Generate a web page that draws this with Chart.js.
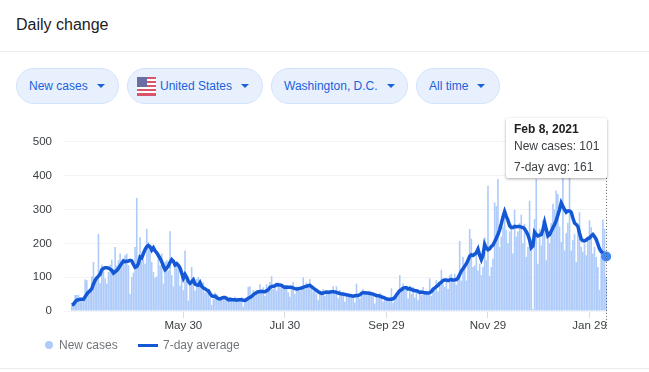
<!DOCTYPE html>
<html lang="en">
<head>
<meta charset="UTF-8">
<title>Daily change</title>
<style>
    html, body { margin: 0; padding: 0; background: #fff; width: 649px; height: 372px; overflow: hidden; }
    body { font-family: "Liberation Sans", Arial, sans-serif; position: relative; }
    #title { position: absolute; left: 16px; top: 15px; font-size: 16px; line-height: 20px; color: #202124; }
    .rule { position: absolute; left: 0; width: 649px; height: 1px; background: #ebebeb; }
    .chip {
        position: absolute; top: 68px; height: 34px; box-sizing: content-box;
        border: 1px solid #d2e3fc; border-radius: 18px; background: #e8f0fe; color: #1a62dc;
        font-size: 12px; display: flex; align-items: center; padding-left: 12px; white-space: nowrap;
    }
    .caret { width: 0; height: 0; margin-left: 9px; border-left: 4px solid transparent; border-right: 4px solid transparent; border-top: 4px solid #1a62dc; }
    #chartBox { position: absolute; left: 0; top: 124px; width: 649px; height: 216px; }
    #tip {
        position: absolute; left: 506px; top: 118px; width: 101px; height: 60px; background: #fff;
        border-radius: 2px; box-shadow: 0 1px 3px rgba(0,0,0,.35); font-size: 12px; color: #3c4043;
    }
    #tip div { position: absolute; left: 8px; white-space: nowrap; }
    #legend { position: absolute; left: 0; top: 337px; font-size: 12px; color: #70757a; }
    #legend span { position: absolute; white-space: nowrap; line-height: 16px; top: 0; }
    #legend i { position: absolute; display: block; }
</style>
</head>
<body>
<div id="title">Daily change</div>
<div class="rule" style="top:51px"></div>

<div class="chip" style="left:16px;width:89px"><span>New cases</span><span class="caret"></span></div>
<div class="chip" style="left:127px;width:125px;padding-left:9px">
    <svg width="19" height="19" viewBox="0 0 19 19" style="margin-right:4px;flex:none">
        <rect width="19" height="19" rx="1" fill="#fff"/>
        <rect y="0" width="19" height="2" fill="#d9566a"/><rect y="4" width="19" height="2" fill="#d9566a"/>
        <rect y="8" width="19" height="2" fill="#d9566a"/><rect y="12" width="19" height="2" fill="#d9566a"/>
        <rect y="16" width="19" height="3" fill="#d9566a"/>
        <rect width="10" height="10" fill="#6a6ea3"/>
    </svg>
    <span>United States</span><span class="caret"></span>
</div>
<div class="chip" style="left:271px;width:123px"><span>Washington, D.C.</span><span class="caret"></span></div>
<div class="chip" style="left:416px;width:70px"><span>All time</span><span class="caret"></span></div>

<div id="chartBox"><canvas id="dailyChart" width="649" height="216"></canvas></div>

<div id="tip">
    <div id="tipDate" style="top:4px;font-weight:bold;color:#202124"></div>
    <div id="tipCases" style="top:21px"></div>
    <div id="tipAvg" style="top:42px"></div>
</div>

<div id="legend">
    <i style="left:45px;top:4px;width:8px;height:8px;border-radius:50%;background:#aecbfa"></i>
    <span id="legendCases" style="left:59px"></span>
    <i style="left:138px;top:7px;width:20px;height:3px;background:#1558d6"></i>
    <span id="legendAvg" style="left:163px"></span>
</div>
<div class="rule" style="top:368px"></div>

<script src="https://cdn.jsdelivr.net/npm/chart.js"></script>
<script>
// tick labels on the x axis
const tickLabels = ['May 30', 'Jul 30', 'Sep 29', 'Nov 29', 'Jan 29'];
const yMax = 500;
const yStep = 100;

// daily values from Mar 24, 2020 to Feb 8, 2021
const newCases = [
    20, 25, 47, 47, 48, 35, 37, 34, 93, 91, 60, 65, 103, 145, 88, 100, 228, 83, 137, 125,
    96, 81, 115, 137, 152, 125, 189, 135, 150, 170, 135, 155, 165, 170, 135, 50, 100, 113, 189, 334,
    140, 218, 150, 152, 140, 243, 204, 180, 145, 115, 99, 102, 170, 135, 170, 81, 145, 150, 120, 236,
    106, 73, 145, 135, 125, 75, 100, 62, 179, 90, 30, 85, 130, 100, 60, 95, 100, 72, 65, 85,
    55, 60, 65, 40, 18, 35, 55, 50, 34, 38, 40, 42, 36, 36, 38, 35, 40, 32, 42, 38,
    30, 35, 42, 13, 36, 40, 71, 73, 45, 62, 55, 62, 50, 79, 55, 70, 45, 79, 60, 86,
    103, 65, 70, 60, 85, 70, 79, 65, 75, 66, 55, 42, 70, 86, 50, 72, 62, 60, 66, 99,
    65, 85, 70, 94, 70, 58, 60, 50, 32, 60, 48, 65, 45, 62, 50, 55, 58, 73, 50, 73,
    38, 62, 45, 55, 27, 52, 48, 42, 44, 40, 25, 81, 48, 37, 60, 65, 52, 55, 48, 60,
    50, 48, 22, 45, 40, 54, 50, 28, 45, 32, 35, 40, 67, 25, 40, 55, 60, 106, 70, 81,
    62, 75, 37, 65, 50, 72, 40, 58, 32, 60, 48, 71, 50, 60, 55, 96, 45, 70, 65, 91,
    58, 85, 122, 80, 71, 96, 65, 105, 110, 85, 110, 78, 95, 207, 90, 160, 130, 90, 150, 243,
    214, 130, 135, 179, 120, 140, 106, 130, 218, 150, 370, 103, 130, 155, 321, 310, 390, 189, 220, 250,
    287, 240, 200, 235, 258, 170, 299, 220, 235, 260, 285, 200, 258, 160, 190, 326, 199, 5, 272, 390,
    140, 243, 194, 270, 262, 150, 238, 200, 260, 317, 300, 356, 346, 250, 204, 420, 179, 230, 260, 420,
    179, 210, 228, 145, 240, 292, 190, 175, 199, 165, 215, 268, 248, 170, 190, 160, 130, 62, 180, 270,
    243, 101
];
const sevenDayAvg = [
    18, 20, 27, 32, 33, 35, 35, 35, 42, 50, 56, 60, 66, 80, 91, 98, 103, 109, 122, 126,
    128, 128, 127, 124, 120, 112, 116, 120, 126, 134, 141, 148, 146, 147, 148, 150, 148, 138, 129, 131,
    140, 160, 157, 170, 182, 190, 194, 190, 180, 187, 178, 172, 164, 156, 146, 133, 122, 127, 133, 144,
    152, 147, 136, 140, 135, 127, 112, 97, 108, 100, 88, 82, 86, 92, 80, 77, 76, 84, 73, 68,
    66, 62, 60, 52, 45, 43, 44, 40, 37, 36, 38, 40, 40, 37, 33, 35, 33, 33, 33, 32,
    33, 33, 33, 32, 31, 34, 38, 40, 43, 48, 52, 54, 57, 57, 58, 57, 57, 60, 63, 70,
    72, 73, 74, 78, 77, 77, 76, 72, 70, 71, 70, 70, 70, 68, 66, 65, 66, 67, 68, 70,
    72, 73, 75, 76, 72, 68, 64, 61, 57, 54, 52, 53, 55, 56, 55, 56, 57, 57, 56, 55,
    53, 52, 50, 50, 49, 48, 47, 46, 45, 44, 45, 46, 46, 48, 52, 54, 54, 53, 53, 52,
    51, 50, 48, 46, 45, 44, 42, 40, 38, 36, 35, 35, 35, 36, 40, 47, 54, 60, 63, 67,
    69, 69, 65, 67, 63, 62, 60, 60, 58, 55, 56, 55, 54, 53, 53, 54, 58, 64, 68, 72,
    76, 82, 85, 90, 92, 92, 90, 92, 93, 91, 92, 93, 98, 108, 118, 125, 132, 140, 150, 162,
    166, 164, 168, 172, 183, 165, 152, 165, 197, 186, 181, 184, 191, 195, 205, 215, 226, 240, 258, 278,
    294, 280, 268, 252, 247, 247, 250, 249, 250, 250, 248, 247, 243, 235, 225, 210, 187, 192, 233, 226,
    222, 224, 226, 240, 262, 242, 222, 226, 236, 246, 256, 268, 284, 300, 320, 310, 300, 292, 296, 296,
    292, 275, 260, 256, 250, 230, 213, 208, 207, 210, 214, 216, 222, 226, 220, 212, 198, 184, 176, 172,
    170, 161
];

// one date label per day
const days = newCases.map((v, i) => new Date(2020, 2, 24 + i));
const categories = days.map(d => d.toLocaleDateString('en-US', { month: 'short', day: 'numeric' }));
const last = newCases.length - 1;

// tooltip and legend text
document.getElementById('tipDate').textContent =
    days[last].toLocaleDateString('en-US', { month: 'short', day: 'numeric', year: 'numeric' });
document.getElementById('tipCases').textContent = 'New cases: ' + newCases[last];
document.getElementById('tipAvg').textContent = '7-day avg: ' + sevenDayAvg[last];
document.getElementById('legendCases').textContent = 'New cases';
document.getElementById('legendAvg').textContent = '7-day average';

// dotted line under the hovered day
const hoverLine = {
    id: 'hoverLine',
    afterDatasetsDraw(chart) {
        const { ctx, scales } = chart;
        const x = Math.round(scales.x.getPixelForValue(last)) + 0.5;
        ctx.save();
        ctx.strokeStyle = '#5f6368';
        ctx.lineWidth = 1;
        ctx.setLineDash([1, 2]);
        ctx.beginPath();
        ctx.moveTo(x, scales.y.top);
        ctx.lineTo(x, scales.y.bottom + 19);
        ctx.stroke();
        ctx.restore();
    }
};

Chart.defaults.font.family = '"Liberation Sans", Arial, sans-serif';

new Chart(document.getElementById('dailyChart'), {
    type: 'bar',
    plugins: [hoverLine],
    data: {
        labels: categories,
        datasets: [
            {
                type: 'line',
                label: '7-day average',
                data: sevenDayAvg,
                borderColor: '#1558d6',
                borderWidth: 3.5,
                tension: 0,
                pointRadius: categories.map((c, i) => i === last ? 5 : 0),
                pointBackgroundColor: '#4285f4',
                pointBorderWidth: 0,
                order: 0
            },
            {
                label: 'New cases',
                data: newCases,
                backgroundColor: '#aecbfa',
                categoryPercentage: 1,
                barPercentage: 0.97,
                order: 1
            }
        ]
    },
    options: {
        responsive: false,
        animation: false,
        layout: { padding: { top: 17, right: 42, bottom: 0, left: 0 } },
        plugins: { legend: { display: false }, tooltip: { enabled: false } },
        scales: {
            x: {
                afterBuildTicks: scale => {
                    scale.ticks = scale.ticks.filter(t => tickLabels.includes(categories[t.value]));
                },
                afterFit: scale => { scale.height = 29; },
                grid: { offset: false, drawOnChartArea: false, tickColor: '#dadce0', tickLength: 7 },
                border: { display: false },
                ticks: {
                    autoSkip: false, maxRotation: 0, padding: 1,
                    color: '#3c4043', font: { size: 11.5 },
                    callback(value) { return categories[value]; }
                }
            },
            y: {
                min: 0,
                max: yMax,
                afterFit: scale => { scale.width = 71; },
                grid: { color: '#f1f3f4', tickColor: '#f1f3f4', tickLength: 8 },
                border: { display: false },
                ticks: { stepSize: yStep, padding: 11, color: '#3c4043', font: { size: 11.5 } }
            }
        }
    }
});
</script>
</body>
</html>
